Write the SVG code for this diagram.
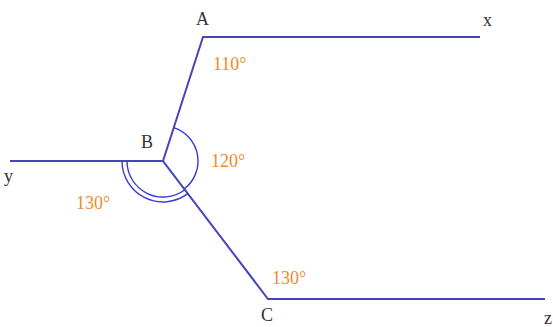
<svg xmlns="http://www.w3.org/2000/svg" width="553" height="327" viewBox="0 0 553 327">
<style>
.ln{stroke:#4545b8;stroke-width:2;fill:none}
.arc{stroke:#3a3ad0;stroke-width:1.4;fill:none}
.lbl{font-family:"Liberation Serif",serif;font-size:18px;fill:#333}
.ang{font-family:"Liberation Serif",serif;font-size:18px;fill:#f08a2a}
</style>
<rect width="553" height="327" fill="#fff"/>
<g id="connectors">
<polyline class="ln" points="480,37 203,37 163,161 268,299 545,299"/>
<line class="ln" x1="10" y1="161" x2="163" y2="161"/>
</g>
<g id="arcs">
<path class="arc" d="M173.7,127.7 A35,35 0 0 1 184.2,188.9"/>
<path class="arc" d="M122,161 A41,41 0 0 0 187.8,193.6"/>
<path class="arc" d="M127,161 A36,36 0 0 0 184.8,189.7"/>
</g>
<g id="A"><text class="lbl" x="196" y="25">A</text></g>
<g id="x"><text class="lbl" x="483" y="26">x</text></g>
<g id="B"><text class="lbl" x="141" y="148">B</text></g>
<g id="y"><text class="lbl" x="4" y="182">y</text></g>
<g id="C"><text class="lbl" x="261" y="321">C</text></g>
<g id="z"><text class="lbl" x="544" y="324">z</text></g>
<g id="angles">
<text class="ang" x="213" y="70">110°</text>
<text class="ang" x="211" y="167">120°</text>
<text class="ang" x="76" y="209">130°</text>
<text class="ang" x="272" y="284">130°</text>
</g>
</svg>
